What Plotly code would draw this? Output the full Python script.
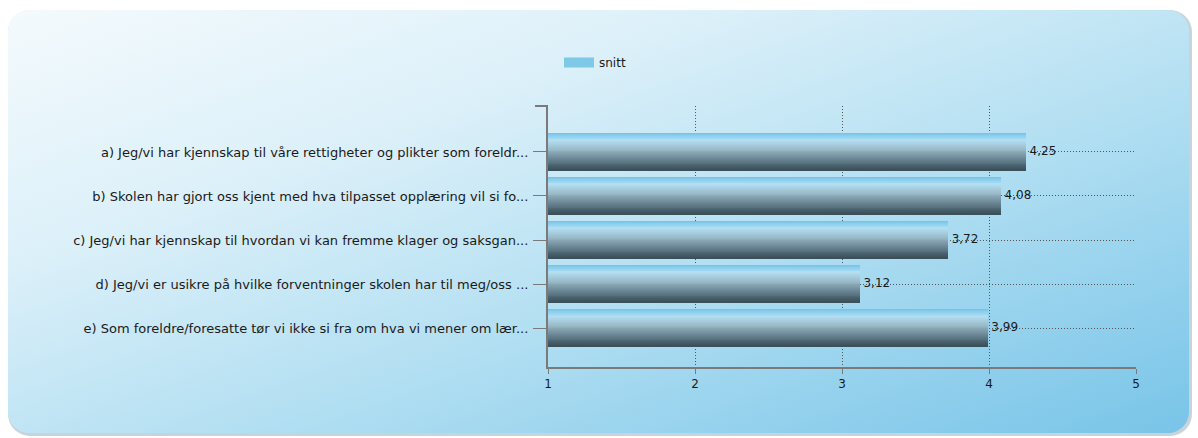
import base64
import plotly.graph_objects as go

categories = [
    "a) Jeg/vi har kjennskap til våre rettigheter og plikter som foreldr...",
    "b) Skolen har gjort oss kjent med hva tilpasset opplæring vil si fo...",
    "c) Jeg/vi har kjennskap til hvordan vi kan fremme klager og saksgan...",
    "d) Jeg/vi er usikre på hvilke forventninger skolen har til meg/oss ...",
    "e) Som foreldre/foresatte tør vi ikke si fra om hva vi mener om lær...",
]
snitt = [4.25, 4.08, 3.72, 3.12, 3.99]
x_ticks = [1, 2, 3, 4, 5]
series_name = "snitt"

W, H = 1198, 438
L, R, T, B = 548, 1136, 106, 367  # plot area in pixels


def hex2rgb(h):
    h = h.lstrip("#")
    return tuple(int(h[i:i + 2], 16) for i in (0, 2, 4))


def lerp_color(stops, t):
    for (t0, c0), (t1, c1) in zip(stops, stops[1:]):
        if t0 <= t <= t1:
            f = 0 if t1 == t0 else (t - t0) / (t1 - t0)
            a, b = hex2rgb(c0), hex2rgb(c1)
            return "rgb(%d,%d,%d)" % tuple(round(a[i] + (b[i] - a[i]) * f) for i in range(3))
    return stops[-1][1]


stops = [
    (0.0, "#72c2e6"),
    (0.07, "#8ccfee"),
    (0.2, "#b4e0f3"),
    (0.45, "#98b8c6"),
    (0.7, "#6a8694"),
    (0.92, "#445c67"),
    (1.0, "#3a4e58"),
]

fig = go.Figure()

bar_w = 0.84
n = 40
sw = bar_w / n
for i in range(n):
    t = (i + 0.5) / n
    w = sw * (1.0 if i == n - 1 else 1.6)
    fig.add_trace(go.Bar(
        x=snitt, y=categories, orientation="h",
        width=w, offset=-bar_w / 2 + i * sw,
        marker=dict(color=lerp_color(stops, t), line=dict(width=0)),
        name=series_name, showlegend=False, hoverinfo="skip",
    ))

# legend entry
fig.add_trace(go.Scatter(
    x=[None], y=[None], mode="lines", name=series_name,
    line=dict(color="#7ec8e8", width=11), showlegend=True,
))

# value labels
fig.add_trace(go.Scatter(
    x=snitt, y=categories, mode="text",
    text=[" " + ("%.2f" % v).replace(".", ",") for v in snitt],
    textposition="middle right",
    textfont=dict(family="DejaVu Sans", size=12, color="#1a1a1a"),
    showlegend=False, hoverinfo="skip",
))

# card background as an SVG image
cx0, cy0, cx1, cy1 = 8, 10, 1192, 436
svg = f'''<svg xmlns="http://www.w3.org/2000/svg" width="{cx1-cx0}" height="{cy1-cy0}" viewBox="0 0 {cx1-cx0} {cy1-cy0}">
<defs><linearGradient id="g" x1="0" y1="0" x2="1" y2="1">
<stop offset="0" stop-color="#f4fafd"/>
<stop offset="0.3" stop-color="#dcf0f9"/>
<stop offset="0.6" stop-color="#b2dff2"/>
<stop offset="1" stop-color="#78c4e8"/>
</linearGradient></defs>
<rect x="0" y="0" width="{cx1-cx0}" height="{cy1-cy0}" rx="22" ry="22" fill="#c9d4da"/>
<rect x="0" y="0" width="{cx1-cx0-3}" height="{cy1-cy0-3}" rx="21" ry="21" fill="url(#g)"/>
</svg>'''
src = "data:image/svg+xml;base64," + base64.b64encode(svg.encode()).decode()
pw, ph = R - L, B - T
fig.add_layout_image(dict(
    source=src, xref="paper", yref="paper",
    x=(cx0 - L) / pw, y=(B - cy0) / ph,
    sizex=(cx1 - cx0) / pw, sizey=(cy1 - cy0) / ph,
    xanchor="left", yanchor="top", sizing="stretch", layer="below",
))

# short tick at the top end of the category axis
fig.add_shape(type="line", xref="paper", yref="paper",
              x0=-13 / pw, x1=0, y0=1, y1=1,
              line=dict(color="#7a7a7a", width=2))

fig.update_layout(
    width=W, height=H,
    margin=dict(l=L, r=W - R, t=T, b=H - B, pad=0),
    paper_bgcolor="white", plot_bgcolor="rgba(0,0,0,0)",
    barmode="overlay", bargap=0,
    separators=", ",
    font=dict(family="DejaVu Sans", size=12, color="#1a1a1a"),
    legend=dict(orientation="h", x=(559 - L) / pw, y=(B - 48) / ph,
                xanchor="left", yanchor="top", bgcolor="rgba(0,0,0,0)",
                font=dict(size=12)),
    xaxis=dict(range=[1, 5], tickvals=x_ticks, ticktext=[str(v) for v in x_ticks],
               showline=True, linecolor="#7a7a7a", linewidth=2,
               ticks="outside", ticklen=5, tickcolor="#7a7a7a",
               showgrid=True, gridcolor="#555555", griddash="1px,2px", gridwidth=1,
               zeroline=False, tickfont=dict(size=12)),
    yaxis=dict(type="category", range=[4.886, -1.045],
               showline=True, linecolor="#7a7a7a", linewidth=2,
               ticks="outside", ticklen=13, tickcolor="#7a7a7a",
               showgrid=True, gridcolor="#555555", griddash="1px,2px", gridwidth=1,
               tickfont=dict(size=13), ticklabelstandoff=2),
)

fig.write_html("out.html", config={"displayModeBar": False},
               post_script="document.body.style.margin='0';document.body.style.overflow='hidden';")
